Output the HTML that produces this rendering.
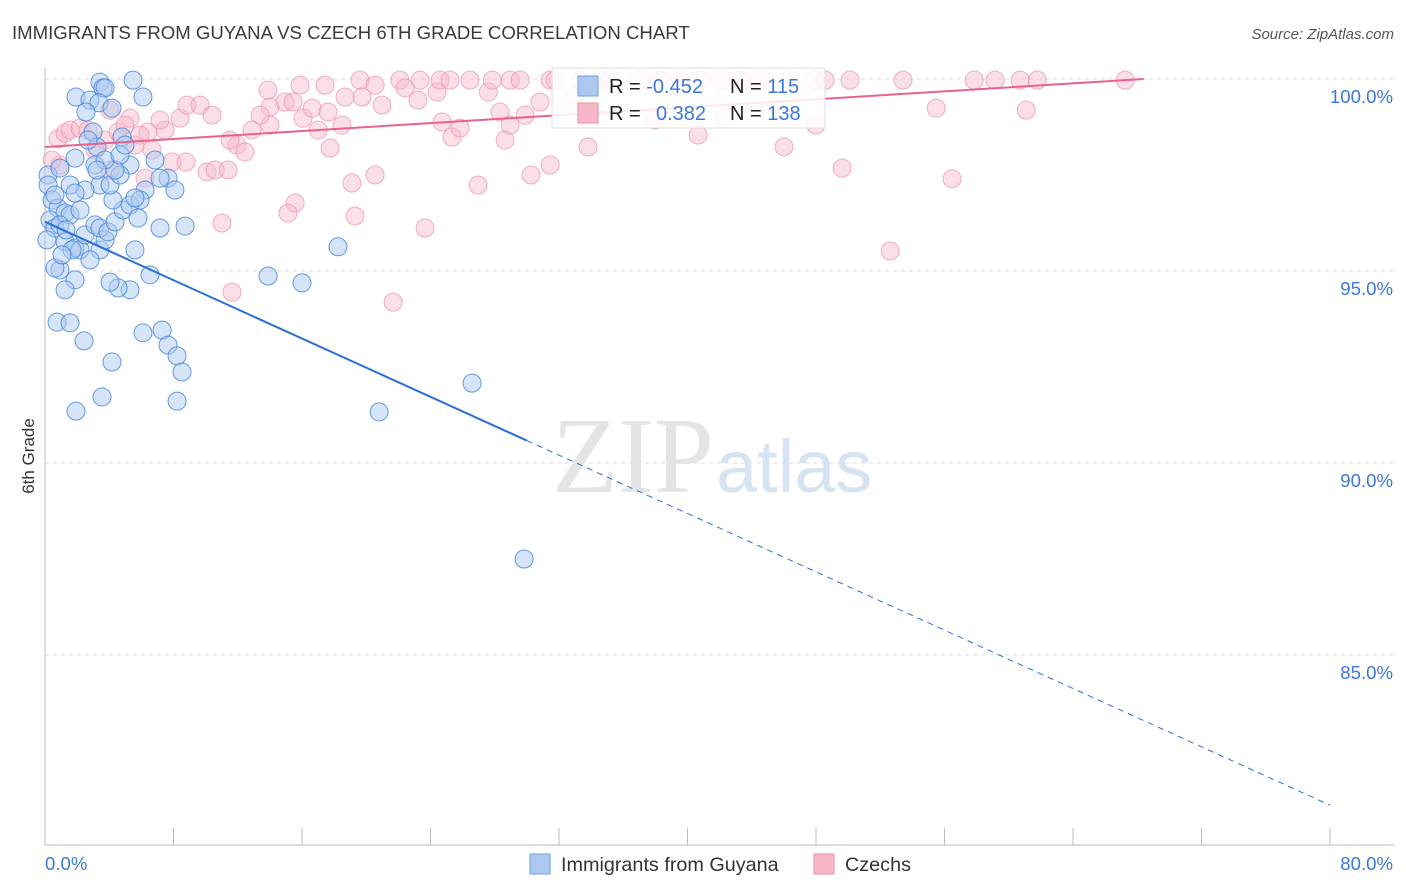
<!DOCTYPE html>
<html><head><meta charset="utf-8"><style>
body{margin:0;background:#fff;font-family:"Liberation Sans",sans-serif;}
svg{display:block}
</style></head><body>
<svg id="chart" width="1406" height="892" xmlns="http://www.w3.org/2000/svg">
<text x="12" y="39" font-size="18.6" fill="#3a3a3a">IMMIGRANTS FROM GUYANA VS CZECH 6TH GRADE CORRELATION CHART</text>
<text x="1394" y="39" font-size="15" fill="#555" font-style="italic" text-anchor="end">Source: ZipAtlas.com</text>
<g id="grid"></g>
<text x="714" y="492" font-size="108" fill="#e4e4e4" font-family="Liberation Serif" text-anchor="end">ZIP</text>
<text x="716" y="492" font-size="74" fill="#d6e3f3">atlas</text>
<g id="pts"></g>
<g id="trend"></g>
<text transform="translate(34,456) rotate(-90)" font-size="17" fill="#333" text-anchor="middle">6th Grade</text>
<g>
<rect x="552" y="68" width="273" height="60" fill="#fff" fill-opacity="0.85" stroke="#ddd"/>
<rect x="578" y="76" width="20" height="20" fill="#aec9f0" stroke="#6f9ee0"/>
<rect x="578" y="103" width="20" height="20" fill="#f7b7c9" stroke="#ea8fab"/>
<text x="609" y="93" font-size="20" fill="#222">R = <tspan fill="#3a78d8">-0.452</tspan></text>
<text x="730" y="93" font-size="20" fill="#222">N = <tspan fill="#3a78d8">115</tspan></text>
<text x="609" y="120" font-size="20" fill="#222">R = <tspan fill="#3a78d8" x="656">0.382</tspan></text>
<text x="730" y="120" font-size="20" fill="#222">N = <tspan fill="#3a78d8">138</tspan></text>
</g>
<g>
<rect x="530" y="854" width="20" height="20" fill="#aec9f0" stroke="#6f9ee0"/>
<text x="561" y="871" font-size="19.8" fill="#333">Immigrants from Guyana</text>
<rect x="814" y="854" width="20" height="20" fill="#f7b7c9" stroke="#ea8fab"/>
<text x="845" y="871" font-size="19.8" fill="#333">Czechs</text>
</g>
</svg>
<script>
const xTicks=[0,8,16,24,32,40,48,56,64,72,80];
const yTicks=[100,95,90,85];
const yTickLabels=["100.0%","95.0%","90.0%","85.0%"];
const blueX=[3.42,3.61,5.48,1.93,2.80,6.10,3.74,3.36,4.17,2.55,2.99,3.24,4.79,5.29,0.19,0.19,0.93,1.87,0.44,0.81,1.25,1.56,0.31,0.62,0.93,0.12,1.25,1.87,2.18,3.42,3.74,2.49,3.11,3.42,3.92,4.36,4.86,5.29,5.79,4.23,3.42,2.49,1.56,1.87,4.05,4.67,4.36,3.11,3.74,6.85,7.66,8.09,6.23,7.16,8.72,6.54,5.29,4.55,4.05,1.87,1.25,0.93,0.62,1.68,1.06,0.75,1.56,2.43,4.17,6.10,7.29,7.66,8.22,8.53,8.22,3.55,1.93,18.24,13.89,16.00,26.59,20.80,29.83,5.60,2.80,2.18,1.31,0.62,2.68,4.67,5.92,7.16,4.98,3.24,5.60];
const blueY=[99.92,99.77,99.97,99.53,99.45,99.53,99.77,99.38,99.24,99.14,98.62,98.23,98.49,97.76,97.50,97.24,97.68,97.94,96.85,96.64,96.51,96.46,96.33,96.12,96.20,95.81,95.76,95.60,95.55,95.55,95.81,95.94,96.20,96.12,96.02,96.28,96.59,96.72,96.38,96.85,97.24,97.11,97.24,97.03,97.24,97.50,97.63,97.76,97.89,97.89,97.42,97.11,97.11,96.12,96.17,94.90,94.51,94.56,94.71,94.77,94.51,95.03,95.08,95.55,95.42,93.67,93.65,93.18,92.63,93.39,93.46,93.07,92.79,92.37,91.61,91.72,91.35,95.63,94.87,94.69,92.08,91.33,87.50,95.55,95.29,96.59,96.07,96.98,98.41,98.02,96.85,97.42,98.28,97.63,96.90];
const pinkX=[0.81,1.25,1.56,2.18,2.68,3.11,3.74,4.55,5.29,5.60,6.41,7.47,8.41,8.84,9.65,10.40,6.66,7.91,8.78,10.09,10.59,11.40,11.95,12.45,12.89,13.88,14.01,14.94,15.44,15.88,16.07,16.63,17.01,17.43,17.62,17.75,18.49,18.68,19.61,19.74,20.55,20.98,22.10,22.42,23.22,23.35,24.41,24.60,24.72,25.34,25.84,26.46,27.60,27.85,28.33,28.64,28.96,29.58,29.89,30.82,31.45,31.76,33.00,33.32,34.56,35.18,37.05,38.29,39.54,40.78,42.03,43.27,44.52,46.39,47.95,48.57,50.12,53.42,57.85,59.15,60.71,61.77,67.25,55.48,61.09,47.99,46.01,40.66,33.81,31.45,30.26,26.96,20.55,19.11,19.30,23.66,15.57,15.13,11.02,11.64,21.67,49.63,56.47,52.62,4.05,4.98,5.92,7.16,14.01,11.52,13.39,0.93,4.05,6.23,0.44,37.98,42.34,28.96,25.22];
const pinkY=[98.44,98.59,98.67,98.72,98.67,98.15,98.41,98.62,98.98,98.28,98.62,98.67,98.98,99.32,99.32,99.06,98.15,97.84,97.84,97.58,97.63,97.63,98.28,98.10,98.67,99.71,99.27,99.40,99.40,99.84,98.98,99.24,98.67,99.84,99.14,98.20,98.80,99.53,99.97,99.53,99.84,99.32,99.97,99.77,99.45,99.97,99.66,99.97,98.88,98.49,98.72,99.97,99.66,99.97,99.14,98.41,99.97,99.97,99.06,99.40,99.97,99.97,99.58,99.97,99.97,99.97,99.97,99.97,99.97,99.97,99.97,99.97,99.97,99.97,99.97,99.97,99.97,99.97,99.97,99.97,99.97,99.97,99.97,99.24,99.19,98.80,98.23,98.54,98.23,97.76,97.50,97.24,97.50,97.29,96.43,96.12,96.77,96.51,96.25,94.45,94.19,97.68,97.40,95.52,99.19,98.80,98.54,98.93,98.80,98.41,99.06,97.76,97.63,97.42,97.89,98.93,98.98,98.80,99.97];
const blueTrend=[96.28,81.09];
const pinkTrend=[98.23,100.0];
const NS="http://www.w3.org/2000/svg";
const sx=v=>45+v*16.0625;
const sy=v=>79+(100-v)*38.4;
function mk(tag,attrs,parent){const e=document.createElementNS(NS,tag);for(const k in attrs)e.setAttribute(k,attrs[k]);parent.appendChild(e);return e;}
const grid=document.getElementById('grid');
yTicks.forEach((t,i)=>{
 const l=mk('line',{x1:45,x2:1394,y1:sy(t),y2:sy(t),stroke:'#ddd','stroke-dasharray':'4,4'},grid);
 
 
 const tx=mk('text',{x:1393,y:sy(t)+24,'font-size':18.6,fill:'#3a78d8','text-anchor':'end'},grid);
 tx.textContent=yTickLabels[i];
 
 
});
const ax=mk('line',{x1:45,x2:45,y1:68,y2:845,stroke:'#bbb'},grid);


const bx=mk('line',{x1:45,x2:1394,y1:845,y2:845,stroke:'#bbb'},grid);


xTicks.forEach(t=>{
 const l=mk('line',{x1:sx(t),x2:sx(t),y1:828,y2:845,stroke:'#bbb'},grid);
 
 
});
const xl0=mk('text',{x:45,y:870,'font-size':18.6,fill:'#3a78d8'},grid);xl0.textContent=xTicks[0].toFixed(1)+'%';


const xl1=mk('text',{x:1393,y:870,'font-size':18.6,fill:'#3a78d8','text-anchor':'end'},grid);xl1.textContent=xTicks[xTicks.length-1].toFixed(1)+'%';


const pts=document.getElementById('pts');
pinkX.forEach((x,i)=>{
 const c=mk('circle',{cx:sx(x),cy:sy(pinkY[i]),r:9,fill:'#f7b7c9','fill-opacity':0.45,stroke:'#ea8fab','stroke-opacity':0.7,'stroke-width':1},pts);
 
 
});
blueX.forEach((x,i)=>{
 const c=mk('circle',{cx:sx(x),cy:sy(blueY[i]),r:9,fill:'#aec9f0','fill-opacity':0.5,stroke:'#3f82dc','stroke-opacity':0.8,'stroke-width':1},pts);
 
 
});
const tr=document.getElementById('trend');
const by=x=>blueTrend[0]+(blueTrend[1]-blueTrend[0])*x/80;
const b1=mk('line',{x1:sx(0),y1:sy(by(0)),x2:sx(30),y2:sy(by(30)),stroke:'#2a6fd6','stroke-width':2},tr);


const b2=mk('line',{x1:sx(30),y1:sy(by(30)),x2:sx(80),y2:sy(by(80)),stroke:'#2a6fd6','stroke-width':1,'stroke-dasharray':'6,5'},tr);


const p1=mk('line',{x1:sx(0),y1:sy(pinkTrend[0]),x2:sx(68.4),y2:sy(pinkTrend[1]),stroke:'#e8628d','stroke-width':2},tr);


</script>
</body></html>
